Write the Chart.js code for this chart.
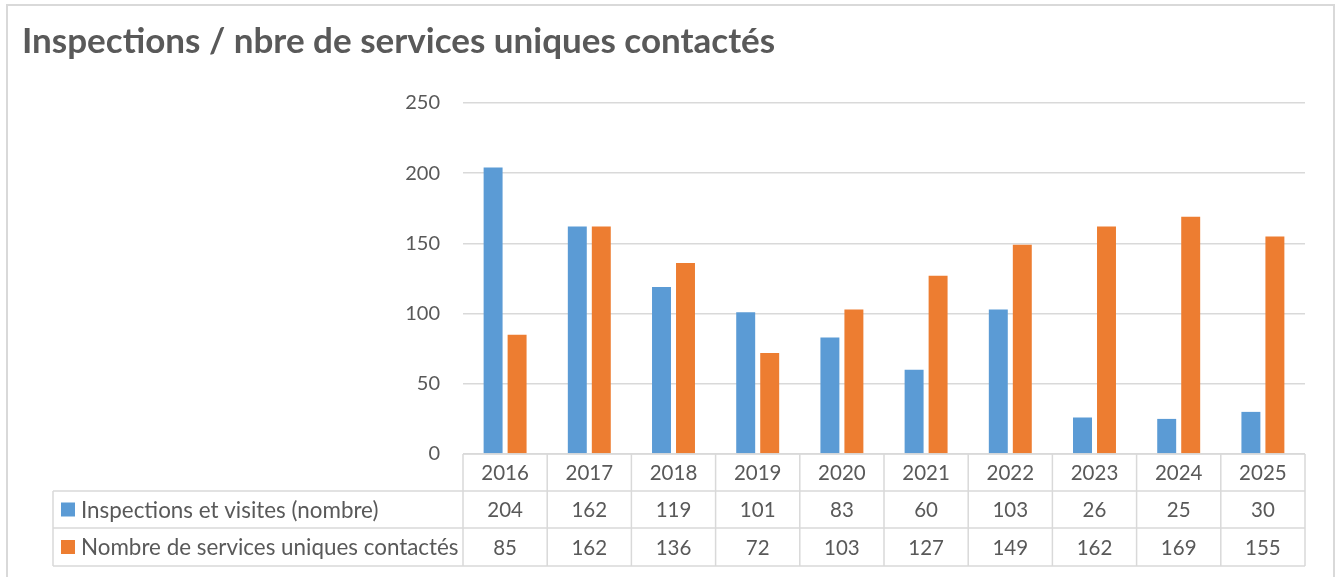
<!DOCTYPE html>
<html>
<head>
<meta charset="utf-8">
<script src="https://cdn.jsdelivr.net/npm/chart.js@4.4.1/dist/chart.umd.min.js"></script>
<style>
  html, body { margin: 0; padding: 0; background: #ffffff; }
  #wrap { position: relative; width: 1342px; height: 577px; }
</style>
</head>
<body>
<div id="wrap"><canvas id="c"></canvas></div>
<script>
const title = "Inspections / nbre de services uniques contactés";
const categories = ["2016","2017","2018","2019","2020","2021","2022","2023","2024","2025"];
const seriesNames = ["Inspections et visites (nombre)", "Nombre de services uniques contactés"];
const inspections = [204, 162, 119, 101, 83, 60, 103, 26, 25, 30];
const services = [85, 162, 136, 72, 103, 127, 149, 162, 169, 155];
const yTicks = [0, 50, 100, 150, 200, 250];

const BLUE = "#5B9BD5", ORANGE = "#ED7D31", TEXT = "#595959", LINE = "#d9d9d9";
const FONT = "Lato, 'Open Sans', sans-serif";

const tablePlugin = {
  id: "tablePlugin",
  beforeDraw(chart) {
    const ctx = chart.ctx;
    ctx.save();
    ctx.fillStyle = "#ffffff";
    ctx.fillRect(0, 0, chart.width, chart.height);
    ctx.strokeStyle = LINE;
    ctx.lineWidth = 2;
    ctx.strokeRect(7, 5, 1327, 620);
    // title
    ctx.fillStyle = TEXT;
    ctx.font = "bold 35px " + FONT;
    ctx.textBaseline = "alphabetic";
    ctx.textAlign = "left";
    ctx.fillText(title, 22, 53);
    ctx.restore();
  },
  afterDraw(chart) {
    const ctx = chart.ctx;
    const area = chart.chartArea;
    const n = categories.length;
    const cw = (area.right - area.left) / n;
    const top = area.bottom;
    const rowH = [37, 37, 38];
    const y1 = top + rowH[0], y2 = y1 + rowH[1], y3 = y2 + rowH[2];
    const legendLeft = 53;
    ctx.save();
    ctx.strokeStyle = LINE;
    ctx.lineWidth = 1.5;
    ctx.beginPath();
    ctx.moveTo(area.left, top); ctx.lineTo(area.right, top);
    [y1, y2, y3].forEach(y => { ctx.moveTo(legendLeft, y); ctx.lineTo(area.right, y); });
    for (let i = 0; i <= n; i++) {
      const x = area.left + i * cw;
      ctx.moveTo(x, top); ctx.lineTo(x, y3);
    }
    ctx.moveTo(legendLeft, y1); ctx.lineTo(legendLeft, y3);
    ctx.stroke();

    ctx.fillStyle = TEXT;
    ctx.font = "20.5px " + FONT;
    ctx.textAlign = "center";
    ctx.textBaseline = "middle";
    const xs = chart.scales.x;
    categories.forEach((c, i) => {
      const cx = xs.getPixelForValue(i);
      ctx.fillText(c, cx, (top + y1) / 2 + 1);
      ctx.fillText(String(inspections[i]), cx, (y1 + y2) / 2 + 1);
      ctx.fillText(String(services[i]), cx, (y2 + y3) / 2 + 1);
    });
    // legend keys
    const colors = [BLUE, ORANGE];
    const rows = [[y1, y2], [y2, y3]];
    ctx.textAlign = "left";
    ctx.font = "22.4px " + FONT;
    rows.forEach((r, k) => {
      const cy = (r[0] + r[1]) / 2;
      ctx.fillStyle = colors[k];
      ctx.fillRect(61, cy - 7, 14, 14);
      ctx.fillStyle = TEXT;
      ctx.fillText(seriesNames[k], 81, cy + 1);
    });
    ctx.restore();
  }
};

new Chart(document.getElementById("c"), {
  type: "bar",
  data: {
    labels: categories,
    datasets: [
      { label: seriesNames[0], data: inspections, backgroundColor: BLUE, borderWidth: 0 },
      { label: seriesNames[1], data: services, backgroundColor: ORANGE, borderWidth: 0 }
    ]
  },
  options: {
    responsive: true,
    maintainAspectRatio: false,
    animation: false,
    layout: { padding: { left: 0, right: 37, top: 103, bottom: 123 } },
    datasets: { bar: { categoryPercentage: 0.57, barPercentage: 0.79 } },
    plugins: { legend: { display: false }, tooltip: { enabled: false }, title: { display: false } },
    scales: {
      x: { display: false },
      y: {
        min: yTicks[0], max: yTicks[yTicks.length - 1],
        afterFit(s) { s.width = 463; },
        afterBuildTicks(s) { s.ticks = yTicks.map(v => ({ value: v })); },
        border: { display: false },
        grid: { color: LINE, lineWidth: 1.5, drawTicks: false },
        ticks: { color: TEXT, font: { family: FONT, size: 20 }, padding: 23 }
      }
    }
  },
  plugins: [tablePlugin]
});
</script>
</body>
</html>
